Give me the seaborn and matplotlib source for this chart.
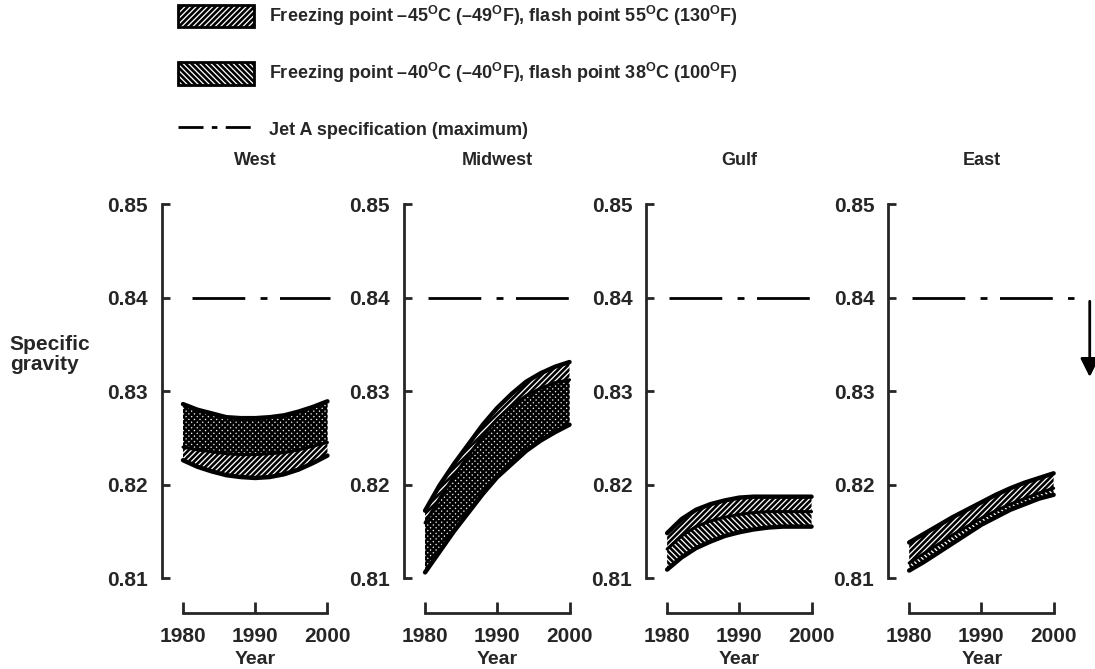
import numpy as np
import pandas as pd
import matplotlib
matplotlib.use("Agg")
import matplotlib.pyplot as plt
import matplotlib.patches as mpatches
import matplotlib.lines as mlines
import seaborn as sns

# ---- data ----
years = [1980, 1982, 1984, 1986, 1988, 1990, 1992, 1994, 1996, 1998, 2000]
regions = ["West", "Midwest", "Gulf", "East"]

west_top = [0.8286, 0.8280, 0.8276, 0.8272, 0.8271, 0.8271, 0.8272, 0.8274, 0.8278, 0.8283, 0.8289]
west_mid = [0.8240, 0.8237, 0.8235, 0.8233, 0.8232, 0.8232, 0.8233, 0.8234, 0.8237, 0.8241, 0.8245]
west_bottom = [0.8226, 0.8219, 0.8214, 0.8210, 0.8208, 0.8207, 0.8208, 0.8211, 0.8216, 0.8223, 0.8231]

midwest_top = [0.8172, 0.8199, 0.8222, 0.8243, 0.8264, 0.8282, 0.8297, 0.8310, 0.8319, 0.8326, 0.8331]
midwest_mid = [0.8159, 0.8185, 0.8209, 0.8231, 0.8252, 0.8270, 0.8284, 0.8295, 0.8303, 0.8309, 0.8312]
midwest_bottom = [0.8106, 0.8128, 0.8150, 0.8170, 0.8190, 0.8208, 0.8222, 0.8236, 0.8247, 0.8256, 0.8264]

gulf_top = [0.8148, 0.8163, 0.8173, 0.8179, 0.8183, 0.8186, 0.8187, 0.8187, 0.8187, 0.8187, 0.8187]
gulf_mid = [0.8131, 0.8145, 0.8155, 0.8161, 0.8165, 0.8168, 0.8170, 0.8171, 0.8171, 0.8171, 0.8171]
gulf_bottom = [0.8109, 0.8122, 0.8132, 0.8139, 0.8145, 0.8149, 0.8152, 0.8154, 0.8155, 0.8155, 0.8155]

east_top = [0.8138, 0.8147, 0.8156, 0.8165, 0.8173, 0.8181, 0.8189, 0.8196, 0.8202, 0.8207, 0.8212]
east_mid = [0.8116, 0.8126, 0.8136, 0.8146, 0.8155, 0.8164, 0.8172, 0.8179, 0.8185, 0.8191, 0.8196]
east_bottom = [0.8108, 0.8117, 0.8127, 0.8137, 0.8147, 0.8157, 0.8165, 0.8173, 0.8179, 0.8185, 0.8189]

# band -45C / 55C flash ("////") and band -40C / 38C flash ("\\\\") : (low, high)
band_45 = {
    "West": (west_bottom, west_top),
    "Midwest": (midwest_bottom, midwest_top),
    "Gulf": (gulf_mid, gulf_top),
    "East": (east_mid, east_top),
}
band_40 = {
    "West": (west_mid, west_top),
    "Midwest": (midwest_bottom, midwest_mid),
    "Gulf": (gulf_bottom, gulf_mid),
    "East": (east_bottom, east_mid),
}
curves = {
    "West": [west_top, west_mid, west_bottom],
    "Midwest": [midwest_top, midwest_mid, midwest_bottom],
    "Gulf": [gulf_top, gulf_mid, gulf_bottom],
    "East": [east_top, east_mid, east_bottom],
}

jet_a_max = 0.84
spec_start = [1981.3, 1980.4, 1980.3, 1980.4]
spec_end = [2000.3, 2001.2, 2000.6, 2002.8]
yticks = [0.81, 0.82, 0.83, 0.84, 0.85]
xticks = [1980, 1990, 2000]

label_45 = "Freezing point \u201345$^{\\mathrm{O}}$C (\u201349$^{\\mathrm{O}}$F), flash point 55$^{\\mathrm{O}}$C (130$^{\\mathrm{O}}$F)"
label_40 = "Freezing point \u201340$^{\\mathrm{O}}$C (\u201340$^{\\mathrm{O}}$F), flash point 38$^{\\mathrm{O}}$C (100$^{\\mathrm{O}}$F)"
label_spec = "Jet A specification (maximum)"

# ---- style ----
sns.set_theme(style="ticks")
plt.rcParams["font.family"] = ["Liberation Sans", "DejaVu Sans"]
plt.rcParams["font.weight"] = "bold"
plt.rcParams["mathtext.fontset"] = "custom"
plt.rcParams["mathtext.rm"] = "Liberation Sans:bold"
plt.rcParams["hatch.linewidth"] = 1.9
plt.rcParams["hatch.color"] = "black"

spec_dashes = (19, 5.5, 2.5, 4.5)
hatch_45 = "//////"
hatch_40 = "\\\\\\\\\\\\"

fig, axes = plt.subplots(1, 4, figsize=(10.95, 6.69), dpi=100)
plt.subplots_adjust(left=0.148, right=0.982, bottom=0.136, top=0.695, wspace=0.294)

for i, (ax, region) in enumerate(zip(axes, regions)):
    lo, hi = band_45[region]
    ax.fill_between(years, lo, hi, facecolor="none", edgecolor="black", hatch=hatch_45, linewidth=0)
    lo, hi = band_40[region]
    ax.fill_between(years, lo, hi, facecolor="none", edgecolor="black", hatch=hatch_40, linewidth=0)
    for j, c in enumerate(curves[region]):
        sns.lineplot(x=years, y=c, color="black", linewidth=3.2 if j != 1 else 2.2, ax=ax)

    ax.plot([spec_start[i], spec_end[i]], [jet_a_max, jet_a_max], color="black",
            linewidth=2, dashes=spec_dashes, clip_on=False)

    ax.set_xlim(1977.1, 2003.0)
    ax.set_ylim(0.81, 0.85)
    ax.set_xticks(xticks)
    ax.set_yticks(yticks)
    ax.set_yticklabels([f"{v:.2f}" for v in yticks])
    ax.set_xlabel("Year", fontsize=14, fontweight="bold", labelpad=4)
    ax.set_ylabel("")
    ax.set_title(region, fontsize=13, fontweight="bold", pad=28)

    sns.despine(ax=ax)
    ax.spines["left"].set_linewidth(2)
    ax.spines["bottom"].set_linewidth(2)
    ax.spines["bottom"].set_position(("outward", 25))
    ax.spines["bottom"].set_bounds(1980, 2000)
    ax.tick_params(axis="y", direction="in", length=6, width=2, labelsize=15, pad=10)
    ax.tick_params(axis="x", direction="in", length=8, width=2, labelsize=15, pad=10)
    for t in ax.get_xticklabels() + ax.get_yticklabels():
        t.set_fontweight("bold")

axes[3].annotate("", xy=(2005.0, 0.8312), xytext=(2005.0, 0.8399),
                 arrowprops=dict(arrowstyle="-|>", color="black", lw=2, mutation_scale=28),
                 annotation_clip=False)

fig.text(0.009, 0.47, "Specific\ngravity", ha="left", va="center", fontsize=15,
         fontweight="bold", linespacing=1.1)

handles = [
    mpatches.Patch(facecolor="white", edgecolor="black", hatch=hatch_45, linewidth=2),
    mpatches.Patch(facecolor="white", edgecolor="black", hatch=hatch_40, linewidth=2),
    mlines.Line2D([], [], color="black", linewidth=2, dashes=(9, 3, 2, 3)),
]
fig.legend(handles, [label_45, label_40, label_spec], loc="upper left",
           bbox_to_anchor=(0.148, 1.018), frameon=False, fontsize=13,
           handlelength=4.2, handleheight=1.5, labelspacing=1.83, handletextpad=0.8)

fig.savefig("out.png", dpi=100)
